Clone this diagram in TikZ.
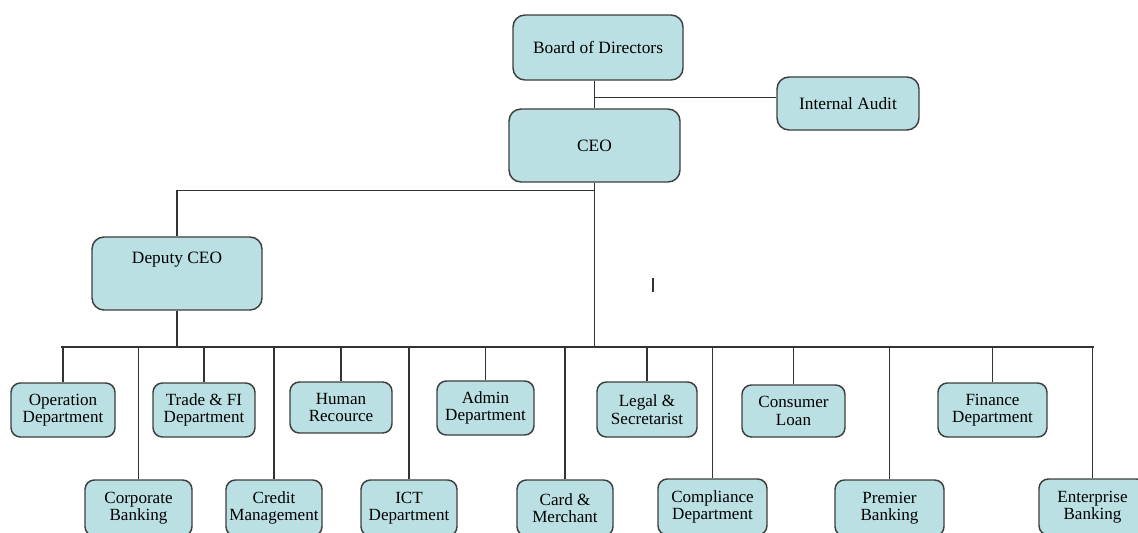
\documentclass[tikz,border=0pt]{standalone}
\usepackage{fontspec}
\setmainfont{Liberation Serif}
\newfontfamily\chartfont{Liberation Serif}
\usepackage{tikz}
\usetikzlibrary{calc}

\definecolor{boxfill}{RGB}{187,224,227}
\definecolor{boxline}{RGB}{62,62,62}

\begin{document}
\begin{tikzpicture}[
  x=0.75pt, y=-0.75pt,
  sz/.style 2 args={minimum width=#1*0.75pt, minimum height=#2*0.75pt},
  head/.style={draw=boxline, line width=1.1pt, rounded corners=9pt, fill=boxfill, align=center, inner sep=2pt, font=\chartfont\fontsize{13}{15}\selectfont},
  dept/.style={draw=boxline, line width=1.1pt, rounded corners=7pt, fill=boxfill, align=center, inner sep=1.5pt, font=\chartfont\fontsize{12.8}{13}\selectfont},
  link/.style={draw=black!80, line width=1pt}
]
\useasboundingbox (0,0) rectangle (1138,532);
\clip (0,0) rectangle (1138,532);
% top of the chart
\node[head, sz={170}{65}] (bod) at (598,47.5) {Board of Directors};
\node[head, sz={142}{53}] (audit) at (848,103.5) {Internal Audit};
\node[head, sz={171}{73}] (ceo) at (594.5,145.5) {CEO};
\node[head, sz={170}{73}, text height=9pt, text depth=24pt] (dep) at (177,273.5) {Deputy CEO};
% departments, upper row
\node[dept, sz={104}{54}] (op) at (63,410) {Operation\\Department};
\node[dept, sz={102}{54}] (trade) at (204,410) {Trade \& FI\\Department};
\node[dept, sz={102}{51}] (hr) at (341,407.5) {Human\\Recource};
\node[dept, sz={97}{54}] (admin) at (485.5,408) {Admin\\Department};
\node[dept, sz={100}{55}] (legal) at (647,409.5) {Legal \&\\Secretarist};
\node[dept, sz={103}{52}] (loan) at (793.5,411) {Consumer\\Loan};
\node[dept, sz={109}{54}] (fin) at (992.5,410) {Finance\\Department};
% departments, lower row
\node[dept, sz={107}{56}] (corp) at (138.5,508) {Corporate\\Banking};
\node[dept, sz={96}{56}] (credit) at (274,508) {Credit\\Management};
\node[dept, sz={96}{56}] (ict) at (409,508) {ICT\\Department};
\node[dept, sz={96}{56}] (card) at (565,508) {Card \&\\Merchant};
\node[dept, sz={109}{56}] (comp) at (712.5,507) {Compliance\\Department};
\node[dept, sz={109}{56}] (prem) at (889.5,508) {Premier\\Banking};
\node[dept, sz={107}{56}] (ent) at (1092.5,507) {Enterprise\\Banking};
% connectors
\coordinate (audJ) at ($(bod.south -| ceo.north)!0.6!(ceo.north)$);
\coordinate (busL) at (61,347);
\coordinate (busR) at (1094,347);
\coordinate (tick) at (653,278);
\draw[link] (bod.south -| ceo.north) -- (ceo.north);
\draw[link] (audJ) -- (audJ -| audit.west);
\draw[link] (ceo.south) -- ++(0,8) -| (dep.north);
\draw[link] (ceo.south) -- (ceo.south |- busL);
\draw[link] (dep.south) -- (dep.south |- busL);
\draw[link] (busL) -- (busR);
\foreach \d in {op,trade,hr,admin,legal,loan,fin,corp,credit,ict,card,comp,prem,ent}
  \draw[link] (\d.north) -- (\d.north |- busL);
\draw[link, line width=0.8pt] (tick) -- ++(0,14);
\end{tikzpicture}
\end{document}
